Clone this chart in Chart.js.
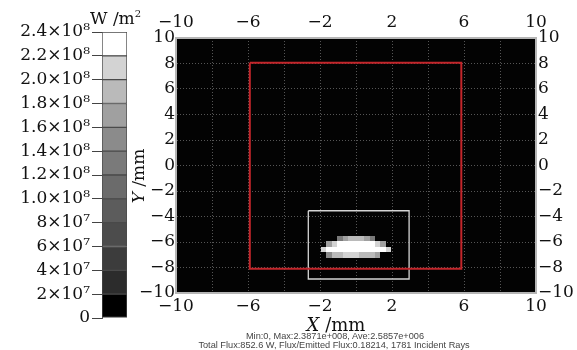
<!DOCTYPE html>
<html><head><meta charset="utf-8">
<script src="https://cdn.jsdelivr.net/npm/chart.js@4.4.1/dist/chart.umd.min.js"></script>
<style>
html,body{margin:0;padding:0;background:#fff;width:577px;height:350px;overflow:hidden;}
#wrap{position:relative;width:577px;height:350px;}
canvas{position:absolute;left:0;top:0;}
.lbl{position:absolute;font-family:'DejaVu Serif',serif;color:#111;white-space:nowrap;line-height:1;z-index:5;}
.stats{position:absolute;font-family:'Liberation Sans',Arial,sans-serif;font-size:9.2px;color:#444;white-space:nowrap;line-height:1;transform:translateX(-50%);z-index:4;}
</style></head><body>
<div id="wrap">
<canvas id="cb" width="130" height="350"></canvas>
<canvas id="main" width="577" height="350"></canvas>
<div class="lbl" style="left:90px;top:10px;font-size:17px;">W /m<span style="font-size:10px;position:relative;top:-7px;">2</span></div>
<div class="lbl" style="left:138px;top:176px;font-size:17px;transform:translate(-50%,-50%) rotate(-90deg);"><i>Y</i> /mm</div>
<div class="stats" style="left:335px;top:332px;">Min:0, Max:2.3871e+008, Ave:2.5857e+006</div>
<div class="stats" style="left:334px;top:341px;">Total Flux:852.6 W, Flux/Emitted Flux:0.18214, 1781 Incident Rays</div>
<div class="lbl" style="left:336px;top:316px;font-size:18px;transform:translateX(-50%);"><i>X</i> /mm</div>
</div>
<script>
// ---- data ----
const xTickValues = [-10, -6, -2, 2, 6, 10];
const xTickLabels = ['−10', '−6', '−2', '2', '6', '10'];
const yTickValues = [-10, -8, -6, -4, -2, 0, 2, 4, 6, 8, 10];
const yTickLabels = ['−10', '−8', '−6', '−4', '−2', '0', '2', '4', '6', '8', '10'];
const cbLevels = [0, 2e7, 4e7, 6e7, 8e7, 1e8, 1.2e8, 1.4e8, 1.6e8, 1.8e8, 2.0e8, 2.2e8, 2.4e8];
const cbTickLabels = ['0', '2×10⁷', '4×10⁷', '6×10⁷', '8×10⁷', '1.0×10⁸', '1.2×10⁸', '1.4×10⁸', '1.6×10⁸', '1.8×10⁸', '2.0×10⁸', '2.2×10⁸', '2.4×10⁸'];
const cbColors = ['#000000', '#2c2c2c', '#3c3c3c', '#4c4c4c', '#5c5c5c', '#6b6b6b', '#7a7a7a', '#8b8b8b', '#a0a0a0', '#bababa', '#d3d3d3', '#ffffff'];
// flux cells (W/m2): cell centres in mm, rows from top to bottom
const heatX = [-1.8, -1.5, -1.2, -0.9, -0.6, -0.3, 0, 0.3, 0.6, 0.9, 1.2, 1.5, 1.8];
const heatY = [-5.75, -6.17, -6.6, -7.02];
const heatRows = [
  [0, 0, 0, 1.3e8, 1.6e8, 1.8e8, 1.85e8, 1.8e8, 1.6e8, 1.3e8, 0, 0, 0],
  [0, 1.6e8, 2.0e8, 2.2e8, 2.25e8, 2.3e8, 2.3e8, 2.3e8, 2.25e8, 2.2e8, 2.1e8, 1.7e8, 0],
  [2.1e8, 2.3e8, 2.35e8, 2.36e8, 2.38e8, 2.387e8, 2.387e8, 2.38e8, 2.36e8, 2.35e8, 2.3e8, 2.25e8, 2.1e8],
  [0, 1.5e8, 1.8e8, 1.9e8, 2.0e8, 2.05e8, 2.0e8, 1.95e8, 1.9e8, 1.8e8, 1.6e8, 0, 0]
];
const redRectX = [-5.9, 5.85, 5.85, -5.9, -5.9];
const redRectY = [8.05, 8.05, -8.1, -8.1, 8.05];
const whiteRectX = [-2.65, 2.95, 2.95, -2.65, -2.65];
const whiteRectY = [-3.55, -3.55, -8.9, -8.9, -3.55];

// ---- settings ----
const CELL_W = 0.3, CELL_H = 0.43;
const FONT = {family: "'DejaVu Serif', serif", size: 17};
Chart.defaults.font.family = "'DejaVu Serif', serif";
Chart.defaults.color = '#111';

function colorFor(v) {
  let idx = 0;
  for (let i = 0; i < cbLevels.length - 1; i++) if (v >= cbLevels[i]) idx = i;
  return cbColors[idx];
}
const xLab = v => { const i = xTickValues.indexOf(Math.round(v)); return i >= 0 ? xTickLabels[i] : ''; };
const yLab = v => { const i = yTickValues.indexOf(Math.round(v)); return i >= 0 ? yTickLabels[i] : ''; };

// ---- colour bar ----
new Chart(document.getElementById('cb'), {
  type: 'bar',
  data: {
    labels: ['W/m²'],
    datasets: cbColors.map((c, i) => ({
      data: [cbLevels[i + 1] - cbLevels[i]],
      backgroundColor: c, borderColor: '#4a4a4a', borderWidth: 1,
      barPercentage: 1, categoryPercentage: 1, borderSkipped: false
    }))
  },
  options: {
    responsive: false, animation: false,
    layout: {padding: {top: 32, bottom: 32, right: 3, left: 0}},
    plugins: {legend: {display: false}, tooltip: {enabled: false}},
    scales: {
      x: {display: false, stacked: true},
      y: {
        stacked: true, min: 0, max: 2.4e8,
        ticks: {stepSize: 2e7, autoSkip: false, padding: 2, color: '#111', font: FONT,
          callback: v => cbTickLabels[Math.round(v / 2e7)]},
        grid: {drawOnChartArea: false, drawTicks: true, tickLength: 10, color: '#444'},
        border: {display: true, color: '#555', width: 1},
        afterFit(s) { s.width = 102; }
      }
    }
  }
});

// ---- main plot ----
const bgPlugin = {
  id: 'bg',
  beforeDraw(chart) {
    const {ctx, chartArea: a} = chart;
    ctx.save(); ctx.fillStyle = '#030303';
    ctx.fillRect(a.left, a.top, a.right - a.left, a.bottom - a.top);
    ctx.restore();
  }
};
const heatPlugin = {
  id: 'heat',
  beforeDatasetsDraw(chart) {
    const {ctx, scales: {x, y}} = chart;
    ctx.save();
    heatRows.forEach((row, r) => {
      const yc = heatY[r];
      row.forEach((v, c) => {
        if (v < cbLevels[1]) return;
        const xc = heatX[c];
        const x0 = Math.round(x.getPixelForValue(xc - CELL_W / 2)), x1 = Math.round(x.getPixelForValue(xc + CELL_W / 2));
        const y0 = Math.round(y.getPixelForValue(yc + CELL_H / 2)), y1 = Math.round(y.getPixelForValue(yc - CELL_H / 2));
        ctx.fillStyle = colorFor(v);
        ctx.fillRect(x0, y0, x1 - x0, y1 - y0);
      });
    });
    ctx.restore();
  }
};
const gridOpt = {color: '#555555', lineWidth: 1, drawTicks: false};
const borderOpt = {display: true, color: '#b5b5b5', width: 2, dash: [1, 2]};
const tickOpt = (cb, pad) => ({stepSize: 2, autoSkip: false, maxRotation: 0, padding: pad, color: '#111', font: FONT, callback: cb});

new Chart(document.getElementById('main'), {
  type: 'scatter',
  data: {
    datasets: [
      {data: redRectX.map((v, i) => ({x: v, y: redRectY[i]})), showLine: true, borderColor: '#c3262b', borderWidth: 2, pointRadius: 0, fill: false, tension: 0},
      {data: whiteRectX.map((v, i) => ({x: v, y: whiteRectY[i]})), showLine: true, borderColor: '#d5d5d5', borderWidth: 1.3, pointRadius: 0, fill: false, tension: 0}
    ]
  },
  options: {
    responsive: false, animation: false,
    layout: {padding: 0},
    plugins: {legend: {display: false}, tooltip: {enabled: false}},
    scales: {
      x: {type: 'linear', position: 'bottom', min: -10, max: 10, ticks: tickOpt(xLab, 3), grid: gridOpt, border: borderOpt, afterFit(s) { s.height = 57; }},
      x2: {type: 'linear', position: 'top', min: -10, max: 10, ticks: tickOpt(xLab, 5), grid: {drawOnChartArea: false, drawTicks: false}, border: borderOpt, afterFit(s) { s.height = 38; }},
      y: {type: 'linear', position: 'left', min: -10, max: 10, ticks: tickOpt(yLab, 1), grid: gridOpt, border: borderOpt, afterFit(s) { s.width = 176; }},
      y2: {type: 'linear', position: 'right', min: -10, max: 10, ticks: tickOpt(yLab, 2), grid: {drawOnChartArea: false, drawTicks: false}, border: borderOpt, afterFit(s) { s.width = 41; }}
    }
  },
  plugins: [bgPlugin, heatPlugin]
});
</script>
</body></html>
